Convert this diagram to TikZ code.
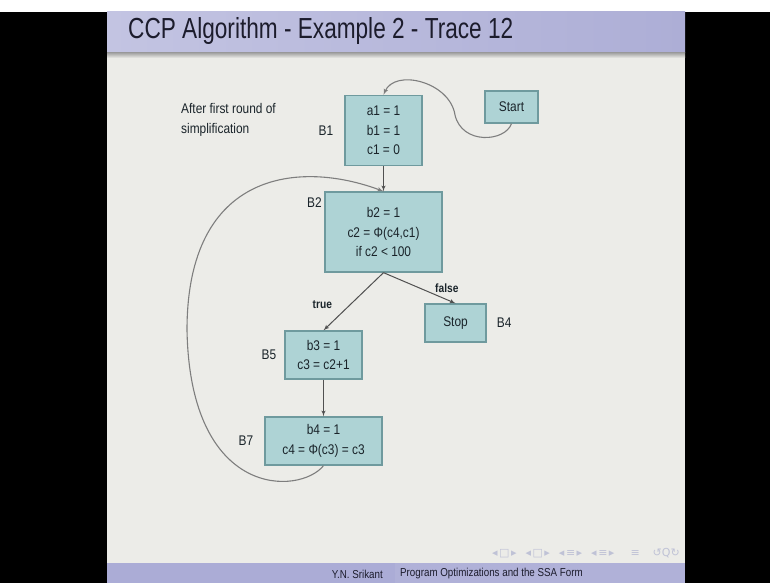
\documentclass[tikz,border=0pt]{standalone}
\usepackage{fontspec}
\newfontfamily\slidefont{Liberation Sans}[FakeStretch=0.85]
\newfontfamily\titlefont{Liberation Sans}[FakeStretch=0.78]
\newfontfamily\navfont{DejaVu Sans}
\usetikzlibrary{arrows,positioning}
\definecolor{slidebg}{HTML}{ECECE8}
\definecolor{titleleft}{HTML}{C3C4E2}
\definecolor{titleright}{HTML}{ADAED6}
\definecolor{titletext}{HTML}{1C1C2C}
\definecolor{footleft}{HTML}{ABACD6}
\definecolor{footright}{HTML}{B0B1D8}
\definecolor{boxfill}{HTML}{AED3D5}
\definecolor{boxline}{HTML}{6F9A9E}
\definecolor{boxtext}{HTML}{1A242A}
\definecolor{arrowgrey}{HTML}{505050}
\definecolor{curvegrey}{HTML}{7E7E7E}
\definecolor{navgrey}{HTML}{BFC2D6}
\newcommand{\navgap}{\hspace{9pt}}

\begin{document}
\begin{tikzpicture}[x=1pt,y=-1pt]
    \tikzset{block/.style = {shape=rectangle,draw=boxline,fill=boxfill,line width=1.3pt,align=center,
        font=\slidefont\fontsize{14}{19.5}\selectfont,text=boxtext,inner sep=0pt}}
    \tikzset{flow/.style = {->,> = latex',draw=arrowgrey,line width=1pt}}
    \tikzset{backarc/.style = {->,> = latex',draw=curvegrey,line width=1.1pt}}
    \tikzset{blabel/.style = {font=\slidefont\fontsize{14}{16}\selectfont,text=boxtext,inner sep=1pt}}
    \tikzset{cond/.style = {font=\slidefont\bfseries\fontsize{12}{14}\selectfont,text=boxtext,inner sep=1pt}}
    \useasboundingbox (0,0) rectangle (770,583);
    % slide
    \fill[white] (0,0) rectangle (770,583);
    \fill[black] (0,12) rectangle (107,583);
    \fill[black] (685,12) rectangle (770,583);
    \fill[slidebg] (107,12) rectangle (685,563);
    \shade[left color=titleleft,right color=titleright] (107,12) rectangle (685,53);
    \shade[top color=gray!70,bottom color=slidebg] (107,53) rectangle (685,58);
    \fill[footleft] (107,563) rectangle (395,583);
    \fill[footright] (395,563) rectangle (685,583);
    \node[anchor=base west,inner sep=0pt,text=titletext,font=\titlefont\fontsize{29}{29}\selectfont] (title) at (128,39) {CCP Algorithm - Example 2 - Trace 12};
    \node[anchor=east,inner sep=0pt,text=titletext,font=\slidefont\fontsize{11.5}{12}\selectfont] (author) at (383,574) {Y.N. Srikant};
    \node[anchor=west,inner sep=0pt,text=titletext,font=\slidefont\fontsize{11.5}{12}\selectfont] (talk) at (400,574) {Program Optimizations and the SSA Form};
    \node[anchor=east,inner sep=0pt,text=navgrey,font=\navfont\fontsize{11}{11}\selectfont] (nav) at (680,553)
        {◂\kern1.5pt□\kern1.5pt▸\navgap◂\kern1.5pt□\kern1.5pt▸\navgap◂\kern1.5pt≡\kern1.5pt▸\navgap◂\kern1.5pt≡\kern1.5pt▸\hspace{16pt}≡\hspace{13pt}↺Q↻};
    \node[anchor=north west,align=left,inner sep=0pt,text=boxtext,font=\slidefont\fontsize{14}{20}\selectfont] (note) at (181,103) {After first round of\\simplification};
    % blocks
    \node[block,minimum width=77pt,minimum height=70pt] (b1) at (383.5,130.5) {a1 = 1\\b1 = 1\\c1 = 0};
    \node[block,minimum width=53pt,minimum height=32pt] (start) at (511.5,107) {Start};
    \node[block,minimum width=117pt,minimum height=80pt] (b2) at (383.5,232) {b2 = 1\\c2 = Φ(c4,c1)\\if c2 < 100};
    \node[block,minimum width=61pt,minimum height=38pt] (stop) at (455.5,323) {Stop};
    \node[block,minimum width=77pt,minimum height=48pt] (b5) at (323.5,355) {b3 = 1\\c3 = c2+1};
    \node[block,minimum width=117pt,minimum height=48pt] (b7) at (323.5,441) {b4 = 1\\c4 = Φ(c3) = c3};
    % block names
    \node[blabel,left=10pt of b1] {B1};
    \node[blabel,below left=5pt and 1.5pt of b2.north west] {B2};
    \node[blabel,right=9pt of stop] {B4};
    \node[blabel,left=7pt of b5] {B5};
    \node[blabel,left=10pt of b7] {B7};
    % edges
    \coordinate (startbend) at (455,115);
    \coordinate (loopleft) at (187,330);
    \draw[backarc] (start.south) .. controls (505,142) and (462,145) .. (startbend)
        .. controls (450,82) and (395,68) .. (b1.north);
    \draw[flow] (b1) -- (b2);
    \draw[flow] (b2.south) -- node[cond,pos=0.55,left=17pt] {true} (b5.north);
    \draw[flow] (b2.south) -- node[cond,pos=0.88,above=6pt] {false} (stop.north);
    \draw[flow] (b5) -- (b7);
    \draw[backarc] (b7.south) .. controls (300,495) and (190,500) .. (loopleft)
        .. controls (187,170) and (300,160) .. (b2.north);
\end{tikzpicture}
\end{document}
